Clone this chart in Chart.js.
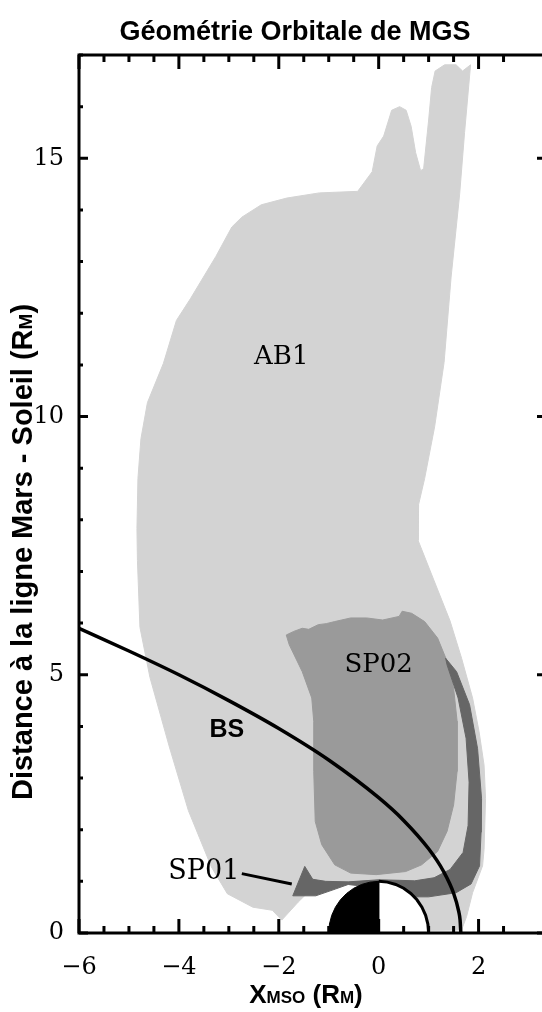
<!DOCTYPE html>
<html>
<head>
<meta charset="utf-8">
<script src="https://cdn.jsdelivr.net/npm/chart.js@4.4.0/dist/chart.umd.min.js"></script>
<style>
  html, body { margin: 0; padding: 0; background: #fff; overflow: hidden; }
  #wrap { width: 590px; height: 1012px; }
</style>
</head>
<body>
<div id="wrap"><canvas id="orbitChart" width="590" height="1012"></canvas></div>
<script>
// Zone AB1 (gris clair)
const ab1X = [-1.94, -2.13, -2.52, -3.03, -3.35, -3.81, -4.19, -4.58, -4.78, -4.83, -4.84, -4.82, -4.76, -4.63, -4.31, -4.05, -3.77, -3.26, -2.94, -2.74, -2.35, -1.84, -1.19, -0.42, -0.13, -0.03, 0.10, 0.26, 0.42, 0.55, 0.65, 0.74, 0.84, 0.90, 1.00, 1.06, 1.13, 1.32, 1.55, 1.68, 1.84, 1.72, 1.62, 1.45, 1.31, 1.12, 0.92, 0.80, 0.79, 1.11, 1.43, 1.66, 1.88, 2.01, 2.11, 2.14, 2.11, 2.08, 1.88, 1.76, 1.66, 0.95, 0.50, -0.30, -0.70, -1.40, -1.61, -1.94];
const ab1Y = [0.25, 0.44, 0.50, 0.76, 1.28, 2.37, 3.60, 4.95, 5.92, 7.21, 7.83, 8.80, 9.57, 10.27, 11.03, 11.86, 12.28, 13.10, 13.67, 13.86, 14.10, 14.23, 14.33, 14.36, 14.74, 15.24, 15.43, 15.93, 16.00, 15.93, 15.62, 15.11, 14.76, 14.80, 15.74, 16.37, 16.69, 16.81, 16.81, 16.69, 16.81, 15.50, 14.29, 12.70, 11.05, 9.80, 8.80, 8.30, 7.60, 6.82, 6.04, 5.32, 4.55, 3.90, 3.25, 2.60, 1.62, 1.30, 0.78, 0.32, 0.06, 0.05, 0.50, 0.90, 0.95, 0.80, 0.60, 0.25];

// Zone SP02 (gris moyen)
const sp02X = [-1.85, -1.70, -1.53, -1.40, -1.21, -1.05, -0.88, -0.56, -0.24, 0.08, 0.41, 0.47, 0.66, 0.92, 1.18, 1.37, 1.50, 1.57, 1.57, 1.50, 1.37, 1.18, 0.86, 0.54, -0.05, -0.56, -0.88, -1.14, -1.27, -1.30, -1.30, -1.34, -1.53, -1.79, -1.85];
const sp02Y = [5.77, 5.84, 5.90, 5.88, 5.97, 5.99, 6.03, 6.10, 6.10, 6.06, 6.13, 6.23, 6.19, 6.03, 5.71, 5.26, 4.74, 4.10, 3.13, 2.48, 1.97, 1.58, 1.32, 1.19, 1.13, 1.16, 1.32, 1.71, 2.16, 3.13, 4.10, 4.55, 5.06, 5.58, 5.77];

// Zone SP01 (gris foncé) : pointe + croissant
const sp01X = [-1.72, -1.48, -1.32, -1.06, -0.61, 0.00, 0.42, 0.72, 1.11, 1.43, 1.69, 1.79, 1.81, 1.75, 1.59, 1.37, 1.34, 1.56, 1.82, 1.98, 2.06, 2.05, 2.02, 1.85, 1.55, 1.00, 0.50, 0.00, -0.42, -0.61, -0.87, -1.26, -1.72];
const sp01Y = [0.72, 1.29, 1.04, 1.00, 0.99, 1.03, 1.02, 1.01, 1.07, 1.23, 1.56, 2.08, 2.92, 3.77, 4.55, 5.19, 5.32, 5.06, 4.42, 3.57, 2.60, 1.95, 1.30, 0.95, 0.78, 0.70, 0.70, 0.80, 0.92, 0.94, 0.85, 0.72, 0.72];

// Choc d'étrave (BS)
const bsX = [-6.0, -5.0, -4.0, -3.0, -2.0, -1.0, 0.0, 0.5, 1.0, 1.3, 1.5, 1.6, 1.63, 1.645];
const bsY = [5.90, 5.46, 5.00, 4.50, 3.96, 3.35, 2.62, 2.18, 1.63, 1.19, 0.77, 0.43, 0.25, 0.0];

// Mars : côté nuit (noir) et côté jour (blanc)
const marsNightX = [-1.0, -0.985, -0.94, -0.866, -0.766, -0.643, -0.5, -0.342, -0.174, 0.0, 0.0, -1.0];
const marsNightY = [0.0, 0.174, 0.342, 0.5, 0.643, 0.766, 0.866, 0.94, 0.985, 1.0, 0.0, 0.0];
const marsDayX = [0.0, 0.174, 0.342, 0.5, 0.643, 0.766, 0.866, 0.94, 0.985, 1.0];
const marsDayY = [1.0, 0.985, 0.94, 0.866, 0.766, 0.643, 0.5, 0.342, 0.174, 0.0];

// Trait vers l'étiquette SP01
const pointerX = [-2.74, -1.74];
const pointerY = [1.15, 0.95];

// Graduations
const xMajorTicks = [-6, -4, -2, 0, 2];
const yMajorTicks = [0, 5, 10, 15];

const regionLabels = [
  { text: 'AB1', x: -1.95, y: 11.15, font: '26px "DejaVu Serif"' },
  { text: 'SP02', x: 0.0, y: 5.18, font: '26px "DejaVu Serif"' },
  { text: 'SP01', x: -3.5, y: 1.18, font: '27px "DejaVu Serif"' },
  { text: 'BS', x: -3.04, y: 3.93, font: 'bold 25px "Liberation Sans"' }
];

const toPts = (xs, ys) => xs.map((x, i) => ({ x: x, y: ys[i] }));

function polygon(xs, ys, color, order) {
  return {
    data: toPts(xs, ys),
    backgroundColor: color,
    borderColor: color,
    borderWidth: 1,
    fill: 'shape',
    pointRadius: 0,
    order: order
  };
}

// cadre + graduations vers l'intérieur
const framePlugin = {
  id: 'frame',
  afterDatasetsDraw(chart) {
    const { ctx, chartArea: a, scales: { x, y } } = chart;
    ctx.save();
    ctx.strokeStyle = '#000';
    ctx.lineWidth = 3;
    x.ticks.forEach(t => {
      const v = t.value;
      if (Math.abs(v * 2 - Math.round(v * 2)) > 1e-6) return;
      const px = x.getPixelForValue(v);
      const len = xMajorTicks.includes(v) ? 14 : 7;
      ctx.beginPath();
      ctx.moveTo(px, a.bottom); ctx.lineTo(px, a.bottom - len);
      ctx.moveTo(px, a.top); ctx.lineTo(px, a.top + len);
      ctx.stroke();
    });
    y.ticks.forEach(t => {
      const v = t.value;
      if (Math.abs(v - Math.round(v)) > 1e-6) return;
      const py = y.getPixelForValue(v);
      const len = yMajorTicks.includes(v) ? 9 : 4;
      ctx.beginPath();
      ctx.moveTo(a.left, py); ctx.lineTo(a.left + len, py);
      ctx.moveTo(a.right, py); ctx.lineTo(a.right - len, py);
      ctx.stroke();
    });
    ctx.strokeRect(a.left, a.top, a.right - a.left, a.bottom - a.top);
    ctx.restore();
  }
};

const labelPlugin = {
  id: 'regionLabels',
  afterDatasetsDraw(chart) {
    const { ctx, scales: { x, y } } = chart;
    ctx.save();
    ctx.fillStyle = '#000';
    ctx.textAlign = 'center';
    ctx.textBaseline = 'middle';
    regionLabels.forEach(l => {
      ctx.font = l.font;
      ctx.fillText(l.text, x.getPixelForValue(l.x), y.getPixelForValue(l.y));
    });
    ctx.restore();
  }
};

// texte avec indices en petites capitales (X MSO, R M)
function drawRuns(ctx, runs, cx, baseline) {
  let total = 0;
  runs.forEach(r => { ctx.font = r.font; total += ctx.measureText(r.t).width; });
  let pos = cx - total / 2;
  ctx.textAlign = 'left';
  ctx.textBaseline = 'alphabetic';
  runs.forEach(r => {
    ctx.font = r.font;
    ctx.fillText(r.t, pos, baseline);
    pos += ctx.measureText(r.t).width;
  });
}

const titlesPlugin = {
  id: 'titles',
  afterDraw(chart) {
    const ctx = chart.ctx;
    const big = 'bold 26px "Liberation Sans"';
    const small = 'bold 17px "Liberation Sans"';
    ctx.save();
    ctx.fillStyle = '#000';
    drawRuns(ctx, [{ t: 'Géométrie Orbitale de MGS', font: 'bold 27px "Liberation Sans"' }], 295, 40);
    drawRuns(ctx, [
      { t: 'X', font: big }, { t: 'MSO', font: small },
      { t: ' (R', font: big }, { t: 'M', font: small }, { t: ')', font: big }
    ], 306, 1003);
    ctx.translate(32, 552);
    ctx.rotate(-Math.PI / 2);
    drawRuns(ctx, [
      { t: 'Distance à la ligne Mars - Soleil (R', font: 'bold 29px "Liberation Sans"' },
      { t: 'M', font: 'bold 19px "Liberation Sans"' },
      { t: ')', font: 'bold 29px "Liberation Sans"' }
    ], 0, 0);
    ctx.restore();
  }
};

const tickFont = { family: 'DejaVu Serif', size: 24 };

new Chart(document.getElementById('orbitChart'), {
  type: 'line',
  data: {
    datasets: [
      {
        data: toPts(pointerX, pointerY),
        borderColor: '#000', borderWidth: 3, pointRadius: 0, fill: false, order: 0
      },
      {
        data: toPts(bsX, bsY),
        borderColor: '#000', borderWidth: 3.5, pointRadius: 0, fill: false,
        cubicInterpolationMode: 'monotone', order: 1
      },
      {
        data: toPts(marsDayX, marsDayY),
        borderColor: '#000', borderWidth: 3, pointRadius: 0, fill: false, order: 2
      },
      polygon(marsNightX, marsNightY, '#000', 3),
      polygon(marsDayX.concat([0, 0]), marsDayY.concat([0, 1]), '#fff', 4),
      polygon(sp01X, sp01Y, '#666666', 5),
      polygon(sp02X, sp02Y, '#9a9a9a', 6),
      polygon(ab1X, ab1Y, '#d3d3d3', 7)
    ]
  },
  options: {
    responsive: false,
    animation: false,
    layout: { padding: { left: 0, right: 44, top: 55, bottom: 0 } },
    plugins: {
      legend: { display: false },
      tooltip: { enabled: false },
      title: { display: false }
    },
    scales: {
      x: {
        type: 'linear',
        min: -6,
        max: 3.35,
        grid: { display: false, drawTicks: false },
        border: { display: false },
        ticks: {
          stepSize: 0.5,
          autoSkip: false,
          maxRotation: 0,
          padding: 20,
          color: '#000',
          font: tickFont,
          callback: v => (xMajorTicks.includes(v) ? String(v).replace('-', '\u2212') : '')
        },
        afterFit: s => { s.height = 79; }
      },
      y: {
        type: 'linear',
        min: 0,
        max: 17,
        grid: { display: false, drawTicks: false },
        border: { display: false },
        ticks: {
          stepSize: 1,
          autoSkip: false,
          padding: 15,
          color: '#000',
          font: tickFont,
          callback: v => (yMajorTicks.includes(v) ? String(v) : '')
        },
        afterFit: s => { s.width = 79; }
      }
    }
  },
  plugins: [framePlugin, labelPlugin, titlesPlugin]
});
</script>
</body>
</html>
